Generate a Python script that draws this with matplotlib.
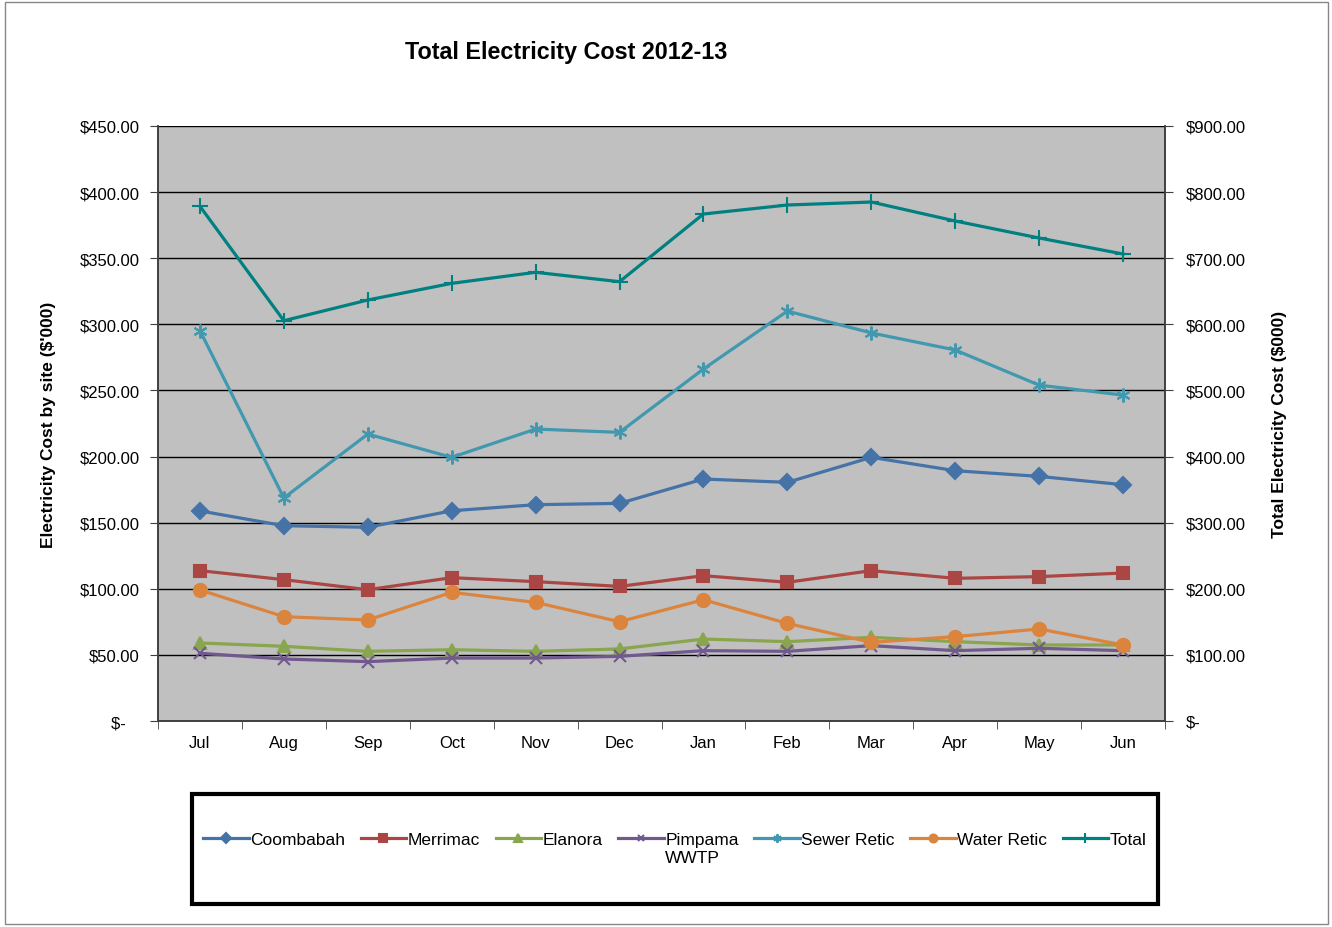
import matplotlib
matplotlib.use("Agg")
import matplotlib.pyplot as plt
from matplotlib.patches import Rectangle
from matplotlib.ticker import FixedLocator
import numpy as np

plt.rcParams['font.family'] = ['Liberation Sans', 'DejaVu Sans']

months = ["Jul", "Aug", "Sep", "Oct", "Nov", "Dec",
          "Jan", "Feb", "Mar", "Apr", "May", "Jun"]

# monthly cost per site, $'000
coombabah = [158.9, 147.7, 146.5, 159.0, 163.6, 164.6, 183.0, 180.5, 199.4, 189.3, 185.0, 178.7]
merrimac = [113.7, 106.9, 99.3, 108.4, 105.4, 101.8, 109.9, 104.9, 113.7, 107.9, 109.2, 111.9]
elanora = [59.0, 56.5, 52.7, 53.9, 52.7, 54.5, 62.0, 60.0, 63.3, 60.0, 57.5, 57.5]
pimpama = [51.2, 46.9, 44.9, 47.6, 47.6, 48.9, 53.2, 52.7, 57.0, 53.2, 55.0, 53.2]
sewer_retic = [295.2, 168.7, 217.0, 199.4, 220.8, 218.3, 266.2, 310.0, 293.5, 280.6, 254.0, 246.5]
water_retic = [99.1, 78.9, 76.4, 97.3, 89.7, 75.1, 91.7, 73.8, 59.5, 63.8, 69.6, 57.5]
# total of all sites, right axis
total = [778.5, 605.5, 636.8, 662.0, 678.7, 664.5, 766.9, 780.5, 785.0, 756.3, 730.6, 706.4]

left_ticks = [0, 50, 100, 150, 200, 250, 300, 350, 400, 450]
right_ticks = [0, 100, 200, 300, 400, 500, 600, 700, 800, 900]

fig = plt.figure(figsize=(13.32, 9.28), dpi=100)
ax = fig.add_axes([158 / 1332, 1 - 722 / 928, 1007 / 1332, 595 / 928])
ax2 = ax.twinx()

x = np.arange(len(months))
lw = 2.3
series = [
    ("Coombabah", coombabah, "#4572A7", "D", 8),
    ("Merrimac", merrimac, "#AA4643", "s", 8.5),
    ("Elanora", elanora, "#89A54E", "^", 8.5),
    ("Pimpama", pimpama, "#71588F", "x", 8),
    ("Sewer Retic", sewer_retic, "#4198AF", (6, 2, 0), 10),
    ("Water Retic", water_retic, "#DB843D", "o", 9.5),
]
for name, vals, col, mk, ms in series:
    ax.plot(x, vals, color=col, lw=lw, marker=mk, ms=ms, mew=1.5,
            mec=col, mfc=col, label=name, zorder=3)
ax2.plot(x, total, color="#008080", lw=lw, marker="+", ms=12, mew=1.5,
         label="Total", zorder=3)

ax.set_facecolor("#C0C0C0")
ax.set_xlim(-0.5, 11.5)
ax.set_ylim(0, 450)
ax2.set_ylim(0, 900)
ax.set_yticks(left_ticks)
ax.set_yticklabels(["$-   "] + ["${:.2f}".format(v) for v in left_ticks[1:]])
ax2.set_yticks(right_ticks)
ax2.set_yticklabels(["$-"] + ["${:.2f}".format(v) for v in right_ticks[1:]])
ax.yaxis.grid(True, color="black", lw=1)
ax.set_axisbelow(True)

ax.set_xticks(x)
ax.set_xticklabels(months)
ax.xaxis.set_minor_locator(FixedLocator(np.arange(-0.5, 12, 1)))
ax.tick_params(axis="x", which="major", length=0, pad=10, labelsize=12)
ax.tick_params(axis="x", which="minor", length=6, color="#404040")
ax.tick_params(axis="y", length=6, labelsize=12, pad=7, color="#404040")
ax2.tick_params(axis="y", length=6, labelsize=12, pad=9, color="#404040")

for a in (ax, ax2):
    for s in a.spines.values():
        s.set_color("#404040")
        s.set_linewidth(1.2)
    a.spines["top"].set_visible(False)

ax.set_ylabel("Electricity Cost by site ($'000)", fontsize=12.5,
              fontweight="bold", labelpad=17)
ax2.set_ylabel("Total Electricity Cost ($000)", fontsize=12.5,
               fontweight="bold", labelpad=19)

fig.text(566 / 1332, 1 - 52 / 928, "Total Electricity Cost 2012-13",
         ha="center", va="center", fontsize=16.8, fontweight="bold")

# legend box and entries
fig.patches.append(Rectangle((192 / 1332, 1 - 905 / 928), 966 / 1332, 110 / 928,
                             transform=fig.transFigure, fill=False,
                             edgecolor="black", lw=3))
h1, l1 = ax.get_legend_handles_labels()
h2, l2 = ax2.get_legend_handles_labels()
leg = fig.legend(h1 + h2, l1 + l2, loc="center", ncol=7,
                 bbox_to_anchor=(675 / 1332, 1 - 840 / 928),
                 frameon=False, fontsize=12.5, handlelength=2.6,
                 handletextpad=0.1, columnspacing=0.9, markerscale=0.6)

# second line of the Pimpama label sits under its first line
fig.canvas.draw()
bb = leg.get_texts()[3].get_window_extent().transformed(fig.transFigure.inverted())
fig.text(bb.x0, bb.y0 - 0.004, "WWTP", ha="left", va="top", fontsize=12.5)

# outer chart border
fig.patches.append(Rectangle((5 / 1332, 3 / 928), 1323 / 1332, 922 / 928,
                             transform=fig.transFigure, fill=False,
                             edgecolor="#888888", lw=1))

fig.savefig("out.png", dpi=100)
